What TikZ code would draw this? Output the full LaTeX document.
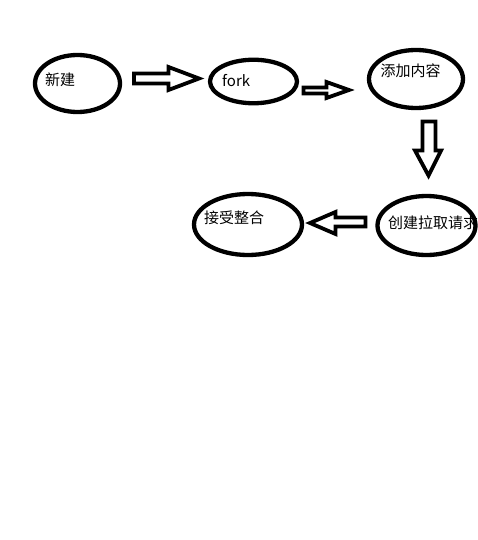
\documentclass[tikz,border=0pt]{standalone}
\usepackage{fontspec}
\newfontfamily\cjk{Noto Sans CJK SC}
\usepackage{tikz}
\usetikzlibrary{shapes}
\usetikzlibrary{positioning}

\begin{document}
\begin{tikzpicture}[x=1pt,y=-1pt]
    % Define the styles for the steps, their labels and the block arrows
    \tikzstyle{stepnode}=[draw, ellipse, line width=4.3pt, inner sep=0pt];
    \tikzstyle{steplabel}=[anchor=west, inner sep=0pt, font=\cjk\fontsize{15}{17}\selectfont];
    \tikzstyle{blockarrow}=[draw, line width=3.8pt, line join=miter, fill=white];

    % Fix the margins
    \useasboundingbox (0,0) rectangle (478,540);

    % Draw the steps
    \node[stepnode, minimum width=85pt, minimum height=57pt] (new) at (77.5,83.5) {};
    \node[stepnode, minimum width=87pt, minimum height=43.5pt] (fork) at (253.5,81.5) {};
    \node[stepnode, minimum width=94pt, minimum height=58pt] (add) at (416,79) {};
    \node[stepnode, minimum width=98pt, minimum height=59pt] (pull) at (426.5,225.5) {};
    \node[stepnode, minimum width=108pt, minimum height=61pt] (merge) at (248,224.5) {};

    % Label the steps
    \node[steplabel] (newtext) at (45,80) {新建};
    \node[steplabel] (forktext) at (222,81) {fork};
    \node[steplabel] (addtext) at (380.5,71) {添加内容};
    \node[steplabel] (pulltext) at (388,223) {创建拉取请求};
    \node[steplabel] (mergetext) at (204,218) {接受整合};

    % Draw the block arrows between the steps
    \draw[blockarrow] (134,73.5) -- (168.5,73.5) -- (168.5,67) -- (199,78.5) -- (168.5,90) -- (168.5,83.5) -- (134,83.5) -- cycle;
    \draw[blockarrow] (303.5,87.5) -- (326.5,87.5) -- (326.5,82) -- (349,90) -- (326.5,98) -- (326.5,93.5) -- (303.5,93.5) -- cycle;
    \draw[blockarrow] (422.5,121.5) -- (435.5,121.5) -- (435.5,150.5) -- (441,150.5) -- (428.5,175.5) -- (415,150.5) -- (422.5,150.5) -- cycle;
    \draw[blockarrow] (365.5,217.5) -- (335.5,217.5) -- (335.5,212) -- (310,223) -- (335.5,234) -- (335.5,226.5) -- (365.5,226.5) -- cycle;
\end{tikzpicture}
\end{document}
